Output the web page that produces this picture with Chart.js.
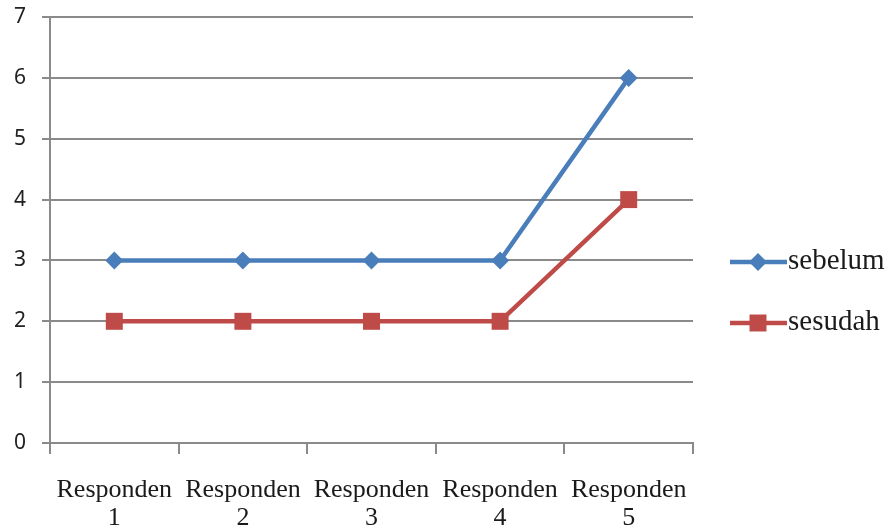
<!DOCTYPE html>
<html>
<head>
<meta charset="utf-8">
<script src="https://cdn.jsdelivr.net/npm/chart.js@4/dist/chart.umd.min.js"></script>
<style>
  html, body { margin: 0; padding: 0; background: #fff; }
  #wrap { width: 891px; height: 531px; }
</style>
</head>
<body>
<div id="wrap"><canvas id="myChart" width="891" height="531"></canvas></div>
<script>
// Datos
const categorias = [['Responden', '1'], ['Responden', '2'], ['Responden', '3'], ['Responden', '4'], ['Responden', '5']];
const sebelum = [3, 3, 3, 3, 6];
const sesudah = [2, 2, 2, 2, 4];
const ticksY = [0, 1, 2, 3, 4, 5, 6, 7];

const azul = '#4A7EBB';
const rojo = '#BE4B48';
const gris = '#8a8a8a';

// Leyenda a la derecha, dibujada a mano
const leyenda = {
    id: 'leyenda',
    afterDraw(chart) {
        const ctx = chart.ctx;
        const x0 = chart.chartArea.right + 37;
        const filas = [262, 323];
        chart.data.datasets.forEach((ds, i) => {
            const y = filas[i];
            ctx.save();
            ctx.strokeStyle = ds.borderColor;
            ctx.lineWidth = ds.borderWidth;
            ctx.beginPath();
            ctx.moveTo(x0, y);
            ctx.lineTo(x0 + 57, y);
            ctx.stroke();
            ctx.fillStyle = ds.backgroundColor;
            Chart.helpers.drawPoint(ctx, {
                pointStyle: ds.pointStyle,
                radius: ds.pointRadius,
                rotation: 0,
                borderWidth: 0
            }, x0 + 28, y);
            ctx.fillStyle = '#1a1a1a';
            ctx.font = '29px "Liberation Serif", "Times New Roman", serif';
            ctx.textBaseline = 'middle';
            ctx.textAlign = 'left';
            ctx.fillText(ds.label, x0 + 58, y - 1);
            ctx.restore();
        });
    }
};

const ctx = document.getElementById('myChart').getContext('2d');

const myChart = new Chart(ctx, {
    type: 'line',
    data: {
        labels: categorias,
        datasets: [
            {
                label: 'sebelum',
                data: sebelum,
                borderColor: azul,
                backgroundColor: azul,
                borderWidth: 4.5,
                pointStyle: 'rectRot',
                pointRadius: 9,
                pointHoverRadius: 9,
                pointBorderWidth: 0,
                tension: 0
            },
            {
                label: 'sesudah',
                data: sesudah,
                borderColor: rojo,
                backgroundColor: rojo,
                borderWidth: 4.5,
                pointStyle: 'rect',
                pointRadius: 12,
                pointHoverRadius: 12,
                pointBorderWidth: 0,
                tension: 0
            }
        ]
    },
    options: {
        responsive: false,
        animation: false,
        layout: { padding: { top: 0, right: 198, left: 0, bottom: 0 } },
        plugins: {
            legend: { display: false },
            tooltip: { enabled: false }
        },
        scales: {
            x: {
                offset: true,
                grid: {
                    offset: true,
                    drawOnChartArea: false,
                    color: gris,
                    lineWidth: 2,
                    tickLength: 11
                },
                border: { color: gris, width: 2 },
                ticks: {
                    color: '#1a1a1a',
                    padding: 22,
                    maxRotation: 0,
                    autoSkip: false,
                    font: { family: '"Liberation Serif", "Times New Roman", serif', size: 26, lineHeight: 1.08 }
                },
                afterFit(scale) { scale.height = 88; }
            },
            y: {
                min: 0,
                max: 7,
                afterBuildTicks(scale) { scale.ticks = ticksY.map(v => ({ value: v })); },
                grid: {
                    color: gris,
                    lineWidth: 2,
                    tickLength: 8
                },
                border: { color: gris, width: 2 },
                ticks: {
                    color: '#222',
                    padding: 16,
                    font: { family: '"Noto Sans", "Liberation Sans", sans-serif', size: 21, lineHeight: 0.1 }
                },
                afterFit(scale) { scale.width = 50; }
            }
        }
    },
    plugins: [leyenda]
});
</script>
</body>
</html>
